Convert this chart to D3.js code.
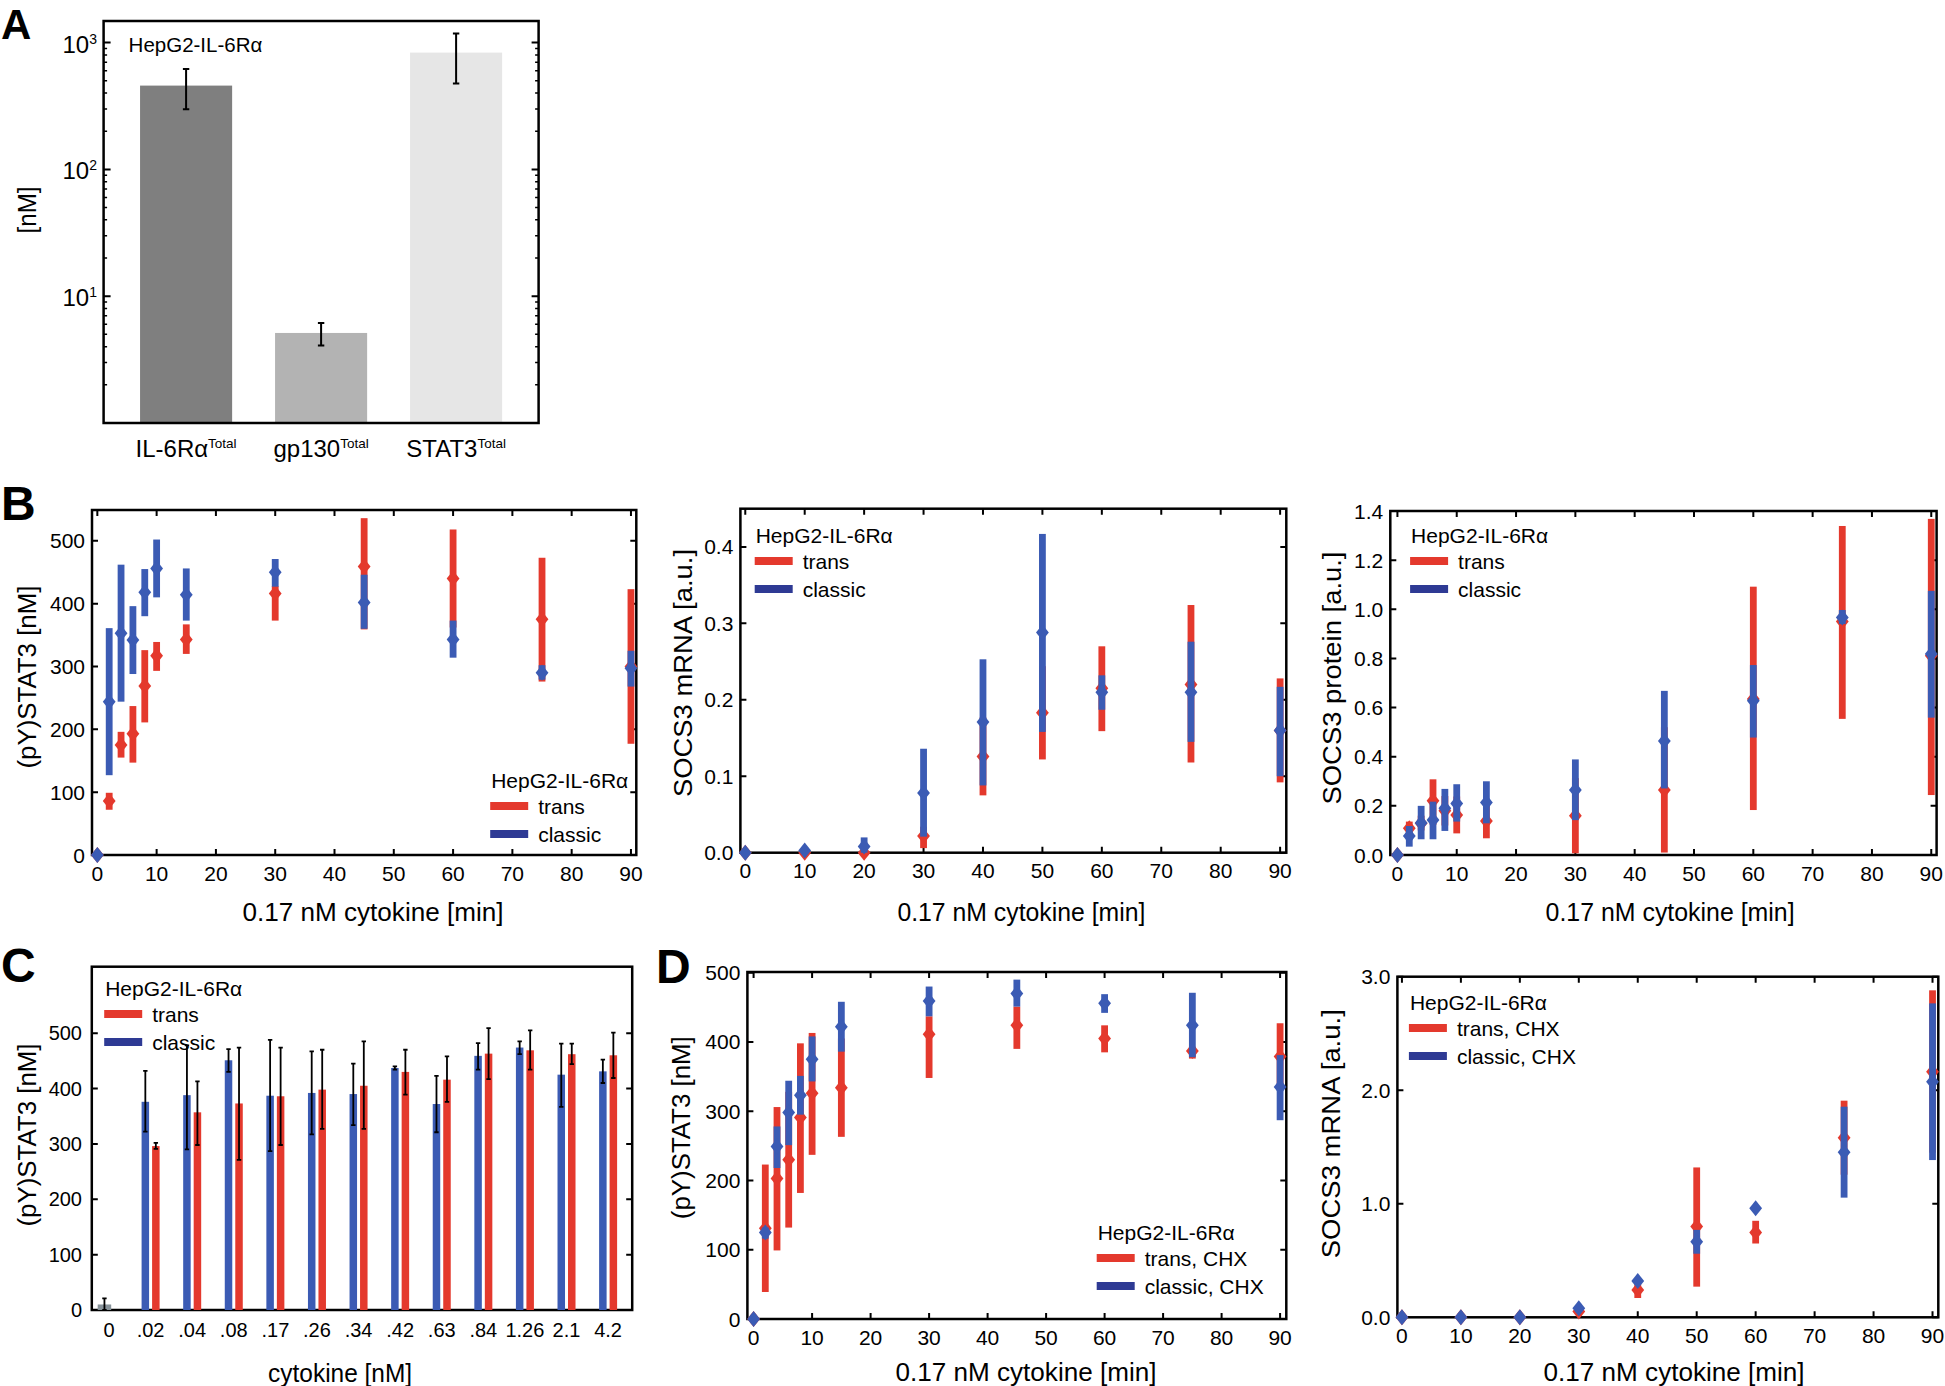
<!DOCTYPE html>
<html>
<head>
<meta charset="utf-8">
<script src="https://cdn.jsdelivr.net/npm/d3@7"></script>
<style>
  html, body { margin: 0; padding: 0; background: #fff; }
  svg { display: block; }
</style>
</head>
<body>
<svg id="fig" width="1945" height="1386"></svg>
<script>
(function () {
  'use strict';

  // ---- data: A, total concentrations (log scale) ----
  var totalNames = ['IL-6Rα', 'gp130', 'STAT3'];
  var totalMean = [458, 5.13, 834];
  var totalLo = [298, 4.08, 475];
  var totalHi = [620, 6.15, 1178];
  var logTicks = [10, 100, 1000];

  // ---- time axes ----
  var timesFine = [0, 2, 4, 6, 8, 10, 15, 30, 45, 60, 75, 90];
  var timesCoarse = [0, 10, 20, 30, 40, 50, 60, 75, 90];
  var timeTicks = [0, 10, 20, 30, 40, 50, 60, 70, 80, 90];

  // ---- B left: (pY)STAT3 ----
  var statClassicMean = [0, 244, 353, 342, 418, 456, 414, 450, 402, 343, 290, 297];
  var statClassicLo = [0, 127, 244, 288, 380, 410, 373, 427, 360, 314, 279, 268];
  var statClassicHi = [0, 361, 462, 396, 455, 502, 456, 471, 446, 373, 302, 325];
  var statTransMean = [0, 86, 175, 193, 269, 317, 343, 416, 459, 440, 375, 300];
  var statTransLo = [0, 72, 155, 147, 211, 293, 320, 373, 359, 362, 276, 177];
  var statTransHi = [0, 99, 196, 237, 326, 339, 367, 428, 536, 518, 473, 423];

  // ---- B middle: SOCS3 mRNA ----
  var mrnaClassicMean = [0, 0.003, 0.008, 0.078, 0.171, 0.288, 0.21, 0.21, 0.16];
  var mrnaClassicLo = [0, 0.003, 0, 0.021, 0.088, 0.158, 0.187, 0.145, 0.10];
  var mrnaClassicHi = [0, 0.003, 0.02, 0.136, 0.253, 0.417, 0.232, 0.276, 0.217];
  var mrnaTransMean = [0, 0, 0, 0.022, 0.126, 0.183, 0.215, 0.22, 0.16];
  var mrnaTransLo = [0, 0, 0, 0.006, 0.075, 0.122, 0.159, 0.118, 0.092];
  var mrnaTransHi = [0, 0, 0, 0.034, 0.177, 0.244, 0.27, 0.324, 0.228];

  // ---- B right: SOCS3 protein ----
  var protClassicMean = [0, 0.077, 0.13, 0.142, 0.19, 0.21, 0.214, 0.265, 0.464, 0.628, 0.967, 0.818];
  var protClassicLo = [0, 0.034, 0.064, 0.064, 0.098, 0.136, 0.129, 0.142, 0.271, 0.478, 0.94, 0.559];
  var protClassicHi = [0, 0.118, 0.2, 0.217, 0.269, 0.288, 0.30, 0.389, 0.668, 0.773, 0.997, 1.075];
  var protTransMean = [0, 0.109, 0.129, 0.221, 0.18, 0.163, 0.138, 0.16, 0.265, 0.635, 0.95, 0.811];
  var protTransLo = [0, 0.081, 0.1, 0.122, 0.12, 0.088, 0.068, 0.007, 0.01, 0.183, 0.554, 0.244];
  var protTransHi = [0, 0.136, 0.16, 0.308, 0.24, 0.238, 0.208, 0.313, 0.52, 1.092, 1.339, 1.368];

  // ---- C: dose response ----
  var doseLabels = ['0', '.02', '.04', '.08', '.17', '.26', '.34', '.42', '.63', '.84', '1.26', '2.1', '4.2'];
  var untreatedMean = 10, untreatedLo = 0, untreatedHi = 21;
  var doseClassicMean = [null, 376, 388, 451, 387, 392, 390, 437, 372, 459, 474, 425, 431];
  var doseClassicLo = [null, 322, 290, 430, 287, 317, 334, 434, 321, 434, 462, 367, 410];
  var doseClassicHi = [null, 432, 478, 471, 488, 467, 445, 440, 423, 482, 485, 481, 452];
  var doseTransMean = [null, 296, 357, 373, 386, 398, 405, 430, 416, 463, 469, 462, 460];
  var doseTransLo = [null, 291, 298, 271, 298, 327, 327, 389, 376, 417, 434, 444, 419];
  var doseTransHi = [null, 302, 413, 474, 474, 470, 485, 470, 458, 509, 505, 481, 501];

  // ---- D left: (pY)STAT3 with CHX ----
  var chxStatClassicMean = [0, 125, 249, 298, 323, 375, 422, 459, 470, 456, 424, 335];
  var chxStatClassicLo = [0, 116, 218, 251, 295, 343, 386, 437, 451, 442, 378, 287];
  var chxStatClassicHi = [0, 132, 278, 344, 351, 408, 458, 480, 490, 469, 471, 381];
  var chxStatTransMean = [0, 131, 203, 230, 291, 326, 334, 411, 424, 405, 387, 379];
  var chxStatTransLo = [0, 39, 99, 132, 182, 237, 263, 348, 390, 385, 376, 331];
  var chxStatTransHi = [0, 223, 306, 328, 398, 413, 405, 437, 451, 424, 393, 427];

  // ---- D right: SOCS3 mRNA with CHX ----
  var chxMrnaClassicMean = [0, 0, 0, 0.08, 0.32, 0.666, 0.96, 1.453, 2.075];
  var chxMrnaClassicLo = [0, 0, 0, 0.08, 0.32, 0.56, 0.96, 1.054, 1.385];
  var chxMrnaClassicHi = [0, 0, 0, 0.08, 0.32, 0.77, 0.96, 1.855, 2.765];
  var chxMrnaTransMean = [0, 0, 0, 0.05, 0.24, 0.8, 0.748, 1.582, 2.163];
  var chxMrnaTransLo = [0, 0, 0, 0.05, 0.17, 0.27, 0.65, 1.256, 1.45];
  var chxMrnaTransHi = [0, 0, 0, 0.05, 0.3, 1.32, 0.85, 1.908, 2.88];

  // ---- styles ----
  var RED = '#e4392d';
  var BLUE = '#3b5bb4';
  var NAVY = '#2e3a94';
  var GREYS = ['#7f7f7f', '#b3b3b3', '#e6e6e6'];
  var FONT = "'Liberation Sans', Arial, Helvetica, sans-serif";
  var DIAMOND = 'M0,-8L6.4,0L0,8L-6.4,0Z';

  var svg = d3.select('#fig');

  function frame (g, l, t, r, b) {
    g.append('rect')
      .attr('x', l).attr('y', t)
      .attr('width', r - l).attr('height', b - t)
      .attr('fill', 'none')
      .attr('stroke', '#000')
      .attr('stroke-width', 2.5);
  }

  function title (g, txt, x, y, len, rotate) {
    var t = g.append('text')
      .attr('x', x).attr('y', y)
      .attr('text-anchor', 'middle')
      .attr('dominant-baseline', 'central')
      .style('font-family', FONT)
      .style('font-size', '25px')
      .attr('textLength', len)
      .attr('lengthAdjust', 'spacingAndGlyphs')
      .text(txt);
    if (rotate) t.attr('transform', 'rotate(-90,' + x + ',' + y + ')');
  }

  function legend (g, lx, ly, labels) {
    g.append('text')
      .attr('x', lx).attr('y', ly)
      .attr('dominant-baseline', 'central')
      .style('font-family', FONT)
      .style('font-size', '21px')
      .text('HepG2-IL-6Rα');
    var rows = [{ c: RED, t: labels[0] }, { c: NAVY, t: labels[1] }];
    rows.forEach(function (r, i) {
      var yy = ly + 26 + i * 28;
      g.append('line')
        .attr('x1', lx - 1).attr('x2', lx + 37)
        .attr('y1', yy).attr('y2', yy)
        .attr('stroke', r.c)
        .attr('stroke-width', 8);
      g.append('text')
        .attr('x', lx + 47).attr('y', yy)
        .attr('dominant-baseline', 'central')
        .style('font-family', FONT)
        .style('font-size', '21px')
        .text(r.t);
    });
  }

  function letter (ch, x, y, size) {
    svg.append('text')
      .attr('x', x).attr('y', y)
      .style('font-family', FONT)
      .style('font-weight', 'bold')
      .style('font-size', size + 'px')
      .text(ch);
  }

  // ================= Panel A =================
  (function () {
    var L = 103.6, R = 538.6, T = 21, B = 423;
    var g = svg.append('g');
    var x = d3.scaleBand().domain(totalNames).range([L, R])
      .paddingInner(0.318).paddingOuter(0.27);
    var y = d3.scaleLog().domain([1, 1480]).range([B, T]);

    g.selectAll('rect.bar')
      .data(totalNames)
      .enter()
      .append('rect')
      .attr('class', 'bar')
      .attr('x', function (d) { return x(d); })
      .attr('width', x.bandwidth())
      .attr('y', function (d, i) { return y(totalMean[i]); })
      .attr('height', function (d, i) { return B - y(totalMean[i]); })
      .attr('fill', function (d, i) { return GREYS[i]; });

    // error bars
    g.selectAll('path.err')
      .data(totalNames)
      .enter()
      .append('path')
      .attr('d', function (d, i) {
        var cx = x(d) + x.bandwidth() / 2;
        var a = y(totalHi[i]), b = y(totalLo[i]);
        return 'M' + cx + ',' + a + 'V' + b +
          'M' + (cx - 3.2) + ',' + a + 'h6.4M' + (cx - 3.2) + ',' + b + 'h6.4';
      })
      .attr('fill', 'none')
      .attr('stroke', '#000')
      .attr('stroke-width', 2);

    frame(g, L, T, R, B);

    // log ticks on both sides, pointing inward
    var minors = [];
    [1, 10, 100, 1000].forEach(function (dec) {
      for (var k = 2; k <= 9; k++) if (dec * k < 1480) minors.push(dec * k);
    });
    g.selectAll('path.minor').data(minors).enter().append('path')
      .attr('d', function (d) {
        return 'M' + L + ',' + y(d) + 'h3.5M' + R + ',' + y(d) + 'h-3.5';
      })
      .attr('stroke', '#000').attr('stroke-width', 1.5);
    g.selectAll('path.major').data(logTicks).enter().append('path')
      .attr('d', function (d) {
        return 'M' + L + ',' + y(d) + 'h7M' + R + ',' + y(d) + 'h-7';
      })
      .attr('stroke', '#000').attr('stroke-width', 2);

    // tick labels 10^n
    var tl = g.selectAll('text.tick').data(logTicks).enter().append('text')
      .attr('x', 97)
      .attr('y', function (d) { return y(d) + 10; })
      .attr('text-anchor', 'end')
      .style('font-family', FONT)
      .style('font-size', '24px');
    tl.append('tspan').text('10');
    tl.append('tspan')
      .attr('dy', -9)
      .style('font-size', '14px')
      .text(function (d) { return String(Math.round(Math.log10(d))); });

    // category labels with superscript
    var cl = g.selectAll('text.cat').data(totalNames).enter().append('text')
      .attr('x', function (d) { return x(d) + x.bandwidth() / 2; })
      .attr('y', 457)
      .attr('text-anchor', 'middle')
      .style('font-family', FONT)
      .style('font-size', '24px');
    cl.append('tspan').text(function (d) { return d; });
    cl.append('tspan')
      .attr('dy', -9)
      .style('font-size', '13.5px')
      .text('Total');

    g.append('text')
      .attr('x', 128.6).attr('y', 44)
      .attr('dominant-baseline', 'central')
      .style('font-family', FONT)
      .style('font-size', '20.5px')
      .text('HepG2-IL-6Rα');

    title(g, '[nM]', 26.8, 210, 47, true);
  }());

  // ================= time course panels =================
  function timePanel (p) {
    var g = svg.append('g');
    var x = d3.scaleLinear().domain(p.xDomain).range([p.L, p.R]);
    var y = d3.scaleLinear().domain(p.yDomain).range([p.B, p.T]);
    var fmt = d3.format(p.fmt);

    frame(g, p.L, p.T, p.R, p.B);

    g.selectAll('path.xt').data(timeTicks).enter().append('path')
      .attr('d', function (d) {
        return 'M' + x(d) + ',' + p.B + 'v-6M' + x(d) + ',' + p.T + 'v6';
      })
      .attr('stroke', '#000').attr('stroke-width', 2);
    g.selectAll('path.yt').data(p.yTicks).enter().append('path')
      .attr('d', function (d) {
        return 'M' + p.L + ',' + y(d) + 'h6M' + p.R + ',' + y(d) + 'h-6';
      })
      .attr('stroke', '#000').attr('stroke-width', 2);

    g.selectAll('text.xl').data(timeTicks).enter().append('text')
      .attr('x', function (d) { return x(d); })
      .attr('y', p.B + 18)
      .attr('text-anchor', 'middle')
      .attr('dominant-baseline', 'central')
      .style('font-family', FONT)
      .style('font-size', '21px')
      .text(function (d) { return d; });
    g.selectAll('text.yl').data(p.yTicks).enter().append('text')
      .attr('x', p.L - 7)
      .attr('y', function (d) { return y(d); })
      .attr('text-anchor', 'end')
      .attr('dominant-baseline', 'central')
      .style('font-family', FONT)
      .style('font-size', '21px')
      .text(function (d) { return fmt(d); });

    legend(g, p.legend[0], p.legend[1], p.legendLabels);

    p.series.forEach(function (s) {
      var pts = p.times.map(function (t, i) {
        return { t: t, m: s.mean[i], lo: s.lo[i], hi: s.hi[i] };
      });
      g.selectAll(null)
        .data(pts.filter(function (d) { return d.hi > d.lo; }))
        .enter()
        .append('rect')
        .attr('x', function (d) { return x(d.t) - 3.4; })
        .attr('width', 6.8)
        .attr('y', function (d) { return y(d.hi); })
        .attr('height', function (d) { return y(d.lo) - y(d.hi); })
        .attr('fill', s.color);
      g.selectAll(null)
        .data(pts)
        .enter()
        .append('path')
        .attr('d', DIAMOND)
        .attr('transform', function (d) {
          return 'translate(' + x(d.t) + ',' + y(d.m) + ')';
        })
        .attr('fill', s.color);
    });

    title(g, p.ylabel, p.ylab[0], p.ylab[1], p.ylab[2], true);
    title(g, '0.17 nM cytokine [min]', p.xlab[0], p.xlab[1], p.xlab[2], false);
  }

  timePanel({
    L: 92, R: 636.3, T: 510, B: 855,
    xDomain: [-0.9, 90.9], yDomain: [0, 549],
    yTicks: [0, 100, 200, 300, 400, 500], fmt: 'd',
    times: timesFine,
    series: [
      { color: RED, mean: statTransMean, lo: statTransLo, hi: statTransHi },
      { color: BLUE, mean: statClassicMean, lo: statClassicLo, hi: statClassicHi }
    ],
    legend: [491.2, 780], legendLabels: ['trans', 'classic'],
    ylabel: '(pY)STAT3 [nM]', ylab: [27, 677, 183],
    xlab: [373, 912, 261]
  });

  timePanel({
    L: 740.4, R: 1286.3, T: 508.7, B: 852.7,
    xDomain: [-0.82, 91.04], yDomain: [0, 0.45],
    yTicks: [0, 0.1, 0.2, 0.3, 0.4], fmt: '.1f',
    times: timesCoarse,
    series: [
      { color: RED, mean: mrnaTransMean, lo: mrnaTransLo, hi: mrnaTransHi },
      { color: BLUE, mean: mrnaClassicMean, lo: mrnaClassicLo, hi: mrnaClassicHi }
    ],
    legend: [755.7, 535], legendLabels: ['trans', 'classic'],
    ylabel: 'SOCS3 mRNA [a.u.]', ylab: [683.2, 673, 248],
    xlab: [1021.4, 912, 248]
  });

  timePanel({
    L: 1390.3, R: 1936.6, T: 511, B: 855,
    xDomain: [-1.2, 90.9], yDomain: [0, 1.4],
    yTicks: [0, 0.2, 0.4, 0.6, 0.8, 1.0, 1.2, 1.4], fmt: '.1f',
    times: timesFine,
    series: [
      { color: RED, mean: protTransMean, lo: protTransLo, hi: protTransHi },
      { color: BLUE, mean: protClassicMean, lo: protClassicLo, hi: protClassicHi }
    ],
    legend: [1411.1, 535], legendLabels: ['trans', 'classic'],
    ylabel: 'SOCS3 protein [a.u.]', ylab: [1331.8, 678, 253],
    xlab: [1670.1, 912, 249]
  });

  timePanel({
    L: 747.4, R: 1286.3, T: 972, B: 1319,
    xDomain: [-1.06, 91.06], yDomain: [0, 501],
    yTicks: [0, 100, 200, 300, 400, 500], fmt: 'd',
    times: timesFine,
    series: [
      { color: RED, mean: chxStatTransMean, lo: chxStatTransLo, hi: chxStatTransHi },
      { color: BLUE, mean: chxStatClassicMean, lo: chxStatClassicLo, hi: chxStatClassicHi }
    ],
    legend: [1097.7, 1232], legendLabels: ['trans, CHX', 'classic, CHX'],
    ylabel: '(pY)STAT3 [nM]', ylab: [681.1, 1127.7, 183],
    xlab: [1026, 1371.7, 261]
  });

  timePanel({
    L: 1397.4, R: 1938.3, T: 976.7, B: 1317.3,
    xDomain: [-0.77, 90.98], yDomain: [0, 3],
    yTicks: [0, 1, 2, 3], fmt: '.1f',
    times: timesCoarse,
    series: [
      { color: RED, mean: chxMrnaTransMean, lo: chxMrnaTransLo, hi: chxMrnaTransHi },
      { color: BLUE, mean: chxMrnaClassicMean, lo: chxMrnaClassicLo, hi: chxMrnaClassicHi }
    ],
    legend: [1409.9, 1002], legendLabels: ['trans, CHX', 'classic, CHX'],
    ylabel: 'SOCS3 mRNA [a.u.]', ylab: [1330.9, 1133.7, 249],
    xlab: [1674.1, 1371.7, 261]
  });

  // ================= Panel C =================
  (function () {
    var L = 91.8, R = 632.2, T = 966.7, B = 1310;
    var g = svg.append('g');
    var x = d3.scaleBand().domain(doseLabels).range([88.2, 628.9]);
    var y = d3.scaleLinear().domain([0, 620]).range([B, T]);
    var yTicks = [0, 100, 200, 300, 400, 500];
    function cx (d) { return x(d) + x.bandwidth() / 2; }

    frame(g, L, T, R, B);
    g.selectAll('path.yt').data(yTicks).enter().append('path')
      .attr('d', function (d) {
        return 'M' + L + ',' + y(d) + 'h6M' + R + ',' + y(d) + 'h-6';
      })
      .attr('stroke', '#000').attr('stroke-width', 2);
    g.selectAll('text.yl').data(yTicks).enter().append('text')
      .attr('x', 82)
      .attr('y', function (d) { return y(d); })
      .attr('text-anchor', 'end')
      .attr('dominant-baseline', 'central')
      .style('font-family', FONT)
      .style('font-size', '20px')
      .text(function (d) { return d; });
    g.selectAll('text.xl').data(doseLabels).enter().append('text')
      .attr('x', cx)
      .attr('y', 1330)
      .attr('text-anchor', 'middle')
      .attr('dominant-baseline', 'central')
      .style('font-family', FONT)
      .style('font-size', '20px')
      .text(function (d) { return d; });

    legend(g, 105.2, 988, ['trans', 'classic']);

    var bars = [];
    doseLabels.forEach(function (d, i) {
      if (i === 0) {
        bars.push({ x: cx(d) - 11.3, w: 13.5, m: untreatedMean, lo: untreatedLo, hi: untreatedHi, c: '#88939a' });
        return;
      }
      bars.push({ x: cx(d) - 9, w: 7.5, m: doseClassicMean[i], lo: doseClassicLo[i], hi: doseClassicHi[i], c: BLUE });
      bars.push({ x: cx(d) + 1.5, w: 7.5, m: doseTransMean[i], lo: doseTransLo[i], hi: doseTransHi[i], c: RED });
    });

    g.selectAll('rect.bar').data(bars).enter().append('rect')
      .attr('x', function (d) { return d.x; })
      .attr('width', function (d) { return d.w; })
      .attr('y', function (d) { return y(d.m); })
      .attr('height', function (d) { return B - y(d.m); })
      .attr('fill', function (d) { return d.c; });
    g.selectAll('path.err').data(bars).enter().append('path')
      .attr('d', function (d) {
        var c = d.x + d.w / 2, a = y(d.hi), b = y(d.lo);
        return 'M' + c + ',' + a + 'V' + b +
          'M' + (c - 2.2) + ',' + a + 'h4.4M' + (c - 2.2) + ',' + b + 'h4.4';
      })
      .attr('fill', 'none')
      .attr('stroke', '#000')
      .attr('stroke-width', 1.8);

    title(g, '(pY)STAT3 [nM]', 27.4, 1135, 183, true);
    title(g, 'cytokine [nM]', 340.1, 1372.7, 144, false);
  }());

  letter('A', 1, 39, 42);
  letter('B', 1, 520, 48);
  letter('C', 1, 982, 48);
  letter('D', 656, 983, 48);
}());
</script>
</body>
</html>
